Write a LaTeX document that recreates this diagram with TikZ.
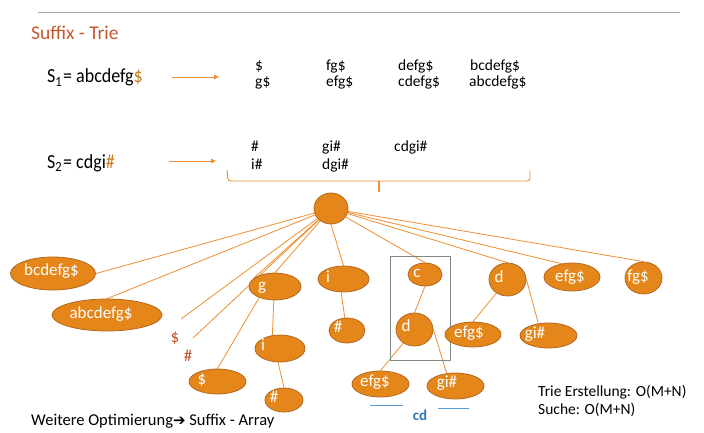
\documentclass[tikz,border=0pt]{standalone}
\usepackage{fontspec}
\setmainfont{Carlito}
\newfontfamily\symfont{DejaVu Sans}
\usetikzlibrary{shapes.geometric,arrows.meta,backgrounds}
\definecolor{orfill}{HTML}{E4861A}
\definecolor{ordraw}{HTML}{B4681E}
\definecolor{edgec}{HTML}{EE8E30}
\definecolor{titlec}{HTML}{C5572B}
\definecolor{dollarc}{HTML}{C47A1B}
\definecolor{redlbl}{HTML}{C0502A}
\definecolor{boxc}{HTML}{7E8A7E}
\definecolor{bluel}{HTML}{5B9BD5}
\definecolor{bluet}{HTML}{2E75B6}
\definecolor{rulec}{HTML}{A6A6A6}
\begin{document}
\begin{tikzpicture}[x=1pt,y=-1pt,
  ell/.style={ellipse, fill=orfill, draw=ordraw, line width=0.8pt, inner sep=0},
  lbl/.style={text=white, font=\fontsize{17}{20}\selectfont, inner sep=0, anchor=center, text height=0.7em, text depth=0.2em},
  edge/.style={draw=edgec, line width=0.8pt},
  txt/.style={font=\fontsize{15.5}{18}\selectfont, inner sep=0, anchor=base west},
  big/.style={font=\fontsize{20}{24}\selectfont, inner sep=0, anchor=base west},
  arr/.style={draw=edgec, line width=0.9pt, -{Triangle[length=5pt,width=4.5pt]}},
  redt/.style={text=redlbl, font=\fontsize{17}{20}\selectfont, inner sep=0, anchor=center}]
\useasboundingbox (0,0) rectangle (704,433);

% top rule
\coordinate (r1) at (38,12.5);
\coordinate (r2) at (680,12.5);
\draw[rulec, line width=0.8pt] (r1) -- (r2);

% title
\node[big, text=titlec, font=\fontsize{19.5}{23}\selectfont] (title) at (31,40) {Suffix - Trie};

% S1 line
\node[big] (s1) at (47,83) {\scalebox{0.9}[1]{S\textsubscript{1}\kern1pt=\ abcdefg\textcolor{dollarc}{\$}}};
\coordinate (a1s) at (172,77);
\coordinate (a1e) at (219,77);
\draw[arr] (a1s) -- (a1e);
\node[txt] (l11) at (255,71) {\$};
\node[txt] (l12) at (255,87) {g\$};
\node[txt] (l13) at (326,71) {fg\$};
\node[txt] (l14) at (326,87) {efg\$};
\node[txt] (l15) at (398,71) {defg\$};
\node[txt] (l16) at (398,87) {cdefg\$};
\node[txt] (l17) at (470,71) {bcdefg\$};
\node[txt] (l18) at (469,87) {abcdefg\$};

% S2 line
\node[big] (s2) at (47,168) {\scalebox{0.9}[1]{S\textsubscript{2}\kern1pt=\ cdgi\textcolor{dollarc}{\#}}};
\coordinate (a2s) at (169,161);
\coordinate (a2e) at (216,161);
\draw[arr] (a2s) -- (a2e);
\node[txt] (l21) at (251,152) {\#};
\node[txt] (l22) at (251,169) {i\#};
\node[txt] (l23) at (322,152) {gi\#};
\node[txt] (l24) at (322,169) {dgi\#};
\node[txt] (l25) at (394,152) {cdgi\#};

% brace
\coordinate (b1) at (227,170);
\coordinate (b2) at (228,181);
\coordinate (b3) at (530,181);
\coordinate (b4) at (530,170);
\coordinate (bm) at (379,181);
\coordinate (bt) at (379,192);
\draw[edgec, line width=0.9pt, rounded corners=3pt] (b1) -- (b2) -- (b3) -- (b4);
\draw[edgec, line width=1.2pt] (bm) -- (bt);

% box
\coordinate (bx1) at (390,256);
\coordinate (bx2) at (450,360);
\draw[boxc, line width=1pt] (bx1) rectangle (bx2);

% nodes
\node[ell, minimum width=34, minimum height=31] (root) at (331,208.5) {};
\node[ell, minimum width=85, minimum height=33] (bc) at (53,273.5) {};
\node[ell, minimum width=110, minimum height=32] (abc) at (107,315) {};
\node[ell, minimum width=52, minimum height=27] (g) at (275,286.5) {};
\node[ell, minimum width=50, minimum height=27] (gi) at (280,348.5) {};
\node[ell, minimum width=57, minimum height=25] (sd) at (217.5,381.5) {};
\node[ell, minimum width=38, minimum height=24] (gih) at (284,400) {};
\node[ell, minimum width=51, minimum height=26] (ir) at (343.5,279) {};
\node[ell, minimum width=36, minimum height=25] (irh) at (347,330.5) {};
\node[ell, minimum width=34, minimum height=23] (c) at (425,274.5) {};
\node[ell, minimum width=37, minimum height=33] (db) at (414.5,329.5) {};
\node[ell, minimum width=57, minimum height=26] (e1) at (380.5,384) {};
\node[ell, minimum width=57, minimum height=26] (g1) at (455.5,386) {};
\node[ell, minimum width=37, minimum height=33] (dr) at (507.5,279.5) {};
\node[ell, minimum width=56, minimum height=25] (e2) at (473,334.5) {};
\node[ell, minimum width=57, minimum height=25] (g2) at (548.5,335.5) {};
\node[ell, minimum width=56, minimum height=28] (er) at (572,277) {};
\node[ell, minimum width=37, minimum height=32] (fg) at (643.5,278) {};

% labels in nodes
\node[lbl] (tbc) at (51.5,273) {bcdefg\$};
\node[lbl] (tabc) at (101,316) {abcdefg\$};
\node[lbl] (tg) at (262,288) {g};
\node[lbl] (tgi) at (263,348) {i};
\node[lbl] (tsd) at (202,382) {\$};
\node[lbl] (tgih) at (274,400) {\#};
\node[lbl] (tir) at (328,280) {i};
\node[lbl] (tirh) at (338,330) {\#};
\node[lbl] (tc) at (417,275) {c};
\node[lbl] (tdb) at (406,329) {d};
\node[lbl] (te1) at (375,384) {efg\$};
\node[lbl] (tg1) at (447,385) {gi\#};
\node[lbl] (tdr) at (499,280) {d};
\node[lbl] (te2) at (469,335) {efg\$};
\node[lbl] (tg2) at (535,336) {gi\#};
\node[lbl] (ter) at (570,279) {efg\$};
\node[lbl] (tfg) at (638,279) {fg\$};

% free ends and red labels
\coordinate (fd) at (181,319);
\coordinate (fh) at (193,338);
\node[redt] (rd) at (175,338) {\$};
\node[redt] (rh) at (188,356) {\#};

% edges behind nodes
\begin{scope}[on background layer]
\draw[edge] (root) -- (bc.east);
\draw[edge] (root) -- (abc.north);
\draw[edge] (root) -- (fd);
\draw[edge] (root) -- (fh);
\draw[edge] (root) -- (g.160);
\draw[edge] (root) -- (g.north);
\draw[edge] (g.215) -- (sd.north);
\draw[edge] (g.265) -- (gi.120);
\draw[edge] (gi.262) -- (gih.north);
\draw[edge] (root.south) -- (ir.north);
\draw[edge] (ir.260) -- (irh.100);
\draw[edge] (root) -- (c.north);
\draw[edge] (c.south) -- (db.north);
\draw[edge] (db) -- (e1.north);
\draw[edge] (db.east) -- (g1.125);
\draw[edge] (root) -- (dr.north);
\draw[edge] (dr) -- (e2.north);
\draw[edge] (dr.east) -- (g2.130);
\draw[edge] (root) -- (er.128);
\draw[edge] (root) -- (fg.north);
\end{scope}

% blue marks
\coordinate (bl1) at (370,405);
\coordinate (bl2) at (403,405);
\coordinate (bl3) at (438,408);
\coordinate (bl4) at (469,408);
\draw[bluel, line width=1pt] (bl1) -- (bl2);
\draw[bluel, line width=1pt] (bl3) -- (bl4);
\node[text=bluet, font=\fontsize{15}{18}\selectfont\bfseries, inner sep=0] (cd) at (420,415) {cd};

% complexity text
\node[txt] (t1) at (538,396) {Trie Erstellung: O(M+N)};
\node[txt] (t2) at (538,414) {Suche: O(M+N)};

% bottom text
\node[txt, font=\fontsize{16.5}{19}\selectfont] (wo) at (31,425) {Weitere Optimierung{\symfont\fontsize{15}{18}\selectfont ➔} Suffix - Array};
\end{tikzpicture}
\end{document}
